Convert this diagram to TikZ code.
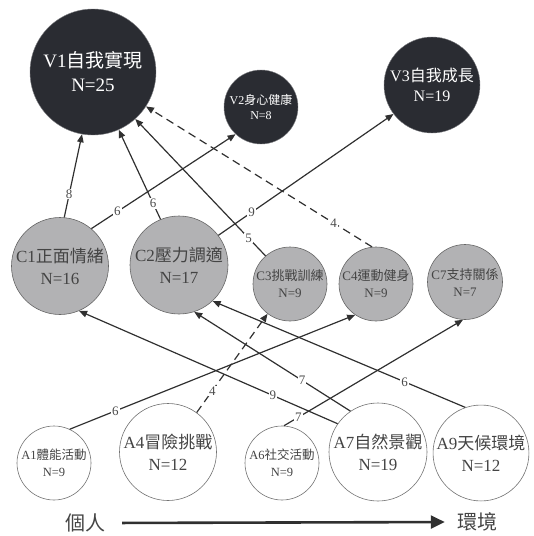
\documentclass[tikz,border=0pt]{standalone}
\usepackage{fontspec}
\setmainfont{Liberation Serif}
\newfontfamily\cjk{Noto Sans CJK TC}
\usetikzlibrary{arrows.meta}
\definecolor{darkc}{HTML}{2A2C32}
\definecolor{grayc}{HTML}{B2B2B4}
\definecolor{linec}{HTML}{303030}
\definecolor{txtc}{HTML}{444444}
\newcommand\fsz[2]{\fontsize{#1pt}{#2pt}\selectfont}
\tikzset{
  vnode/.style={circle, draw=darkc!60, fill=darkc, text=white, inner sep=0pt, align=center},
  cnode/.style={circle, draw=black!60, line width=0.6pt, fill=grayc, text=txtc, inner sep=0pt, align=center},
  anode/.style={circle, draw=black!55, line width=0.6pt, fill=white, text=txtc, inner sep=0pt, align=center},
  edge/.style={draw=linec, line width=1.2pt, -{Triangle[length=8pt,width=6.5pt]}},
  dedge/.style={edge, dash pattern=on 8pt off 5pt},
  lab/.style={fill=white, inner sep=1pt, text=black!70, font=\fsz{13}{14}},
}
\begin{document}
\begin{tikzpicture}[x=1pt,y=-1pt]
\useasboundingbox (0,0) rectangle (534,536);
% top level
\node[vnode, minimum size=126pt, font=\fsz{19}{24}] (V1) at (93,72) {V1{\cjk 自我實現}\\N=25};
\node[vnode, minimum size=74pt, font=\fsz{12}{15}] (V2) at (261,107) {V2{\cjk 身心健康}\\N=8};
\node[vnode, minimum size=96pt, font=\fsz{16}{20}] (V3) at (432,85) {V3{\cjk 自我成長}\\N=19};
% middle level
\node[cnode, minimum size=97pt, font=\fsz{17}{22}] (C1) at (60,266) {C1{\cjk 正面情緒}\\N=16};
\node[cnode, minimum size=98pt, font=\fsz{17}{22}] (C2) at (179,265) {C2{\cjk 壓力調適}\\N=17};
\node[cnode, minimum size=74pt, font=\fsz{13}{17}] (C3) at (290,284) {C3{\cjk 挑戰訓練}\\N=9};
\node[cnode, minimum size=74pt, font=\fsz{13}{17}] (C4) at (376,284) {C4{\cjk 運動健身}\\N=9};
\node[cnode, minimum size=75pt, font=\fsz{13}{17}] (C7) at (465,282) {C7{\cjk 支持關係}\\N=7};
% bottom level
\node[anode, minimum size=74pt, font=\fsz{12.5}{17}] (A1) at (54,463) {A1{\cjk 體能活動}\\N=9};
\node[anode, minimum size=97pt, font=\fsz{17}{22}] (A4) at (168,452) {A4{\cjk 冒險挑戰}\\N=12};
\node[anode, minimum size=74pt, font=\fsz{12.5}{17}] (A6) at (282,463) {A6{\cjk 社交活動}\\N=9};
\node[anode, minimum size=98pt, font=\fsz{17}{22}] (A7) at (378,452) {A7{\cjk 自然景觀}\\N=19};
\node[anode, minimum size=94pt, font=\fsz{17}{22}] (A9) at (481,453) {A9{\cjk 天候環境}\\N=12};
% axis
\node[text=txtc, font=\fsz{20}{22}\cjk, inner sep=0pt] (indiv) at (85,523) {個人};
\node[text=txtc, font=\fsz{20}{22}\cjk, inner sep=0pt] (env) at (477,522) {環境};
\draw[draw=linec, line width=2.6pt, -{Triangle[length=14pt,width=13pt]}, shorten <=17pt, shorten >=12pt] (indiv.east) -- (env.west);
% edges to V
\draw[edge] (C1.85) -- node[lab,pos=.28]{8} (V1.260);
\draw[edge] (C1.50) -- node[lab,pos=.18]{6} (V2.227);
\draw[edge] (C2.112) -- node[lab,pos=.18]{6} (V1.294);
\draw[edge] (C3.131) -- node[lab,pos=.13]{5} (V1.312);
\draw[dedge] (C4.96) -- node[lab,pos=.17]{4} (V1.327);
\draw[edge] (C2.37) -- node[lab,pos=.19]{9} (V3.217);
% edges to C
\draw[edge] (A1.65) -- node[lab,pos=.16]{6} (C4.236);
\draw[dedge] (A4.54) -- node[lab,pos=.22]{4} (C3.233);
\draw[edge] (A6.87) -- node[lab,pos=.08]{7} (C7.267);
\draw[edge] (A7.145) -- node[lab,pos=.25]{9} (C1.293);
\draw[edge] (A7.124) -- node[lab,pos=.31]{7} (C2.288);
\draw[edge] (A9.109) -- node[lab,pos=.24]{6} (C2.313);
\end{tikzpicture}
\end{document}
